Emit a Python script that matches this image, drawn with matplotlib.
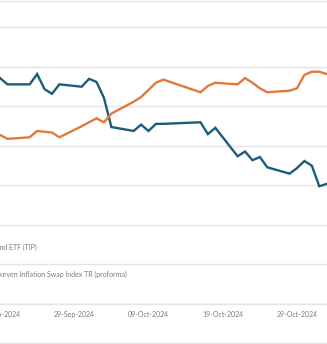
import matplotlib
matplotlib.use("Agg")
import matplotlib.dates as mdates
import matplotlib.pyplot as plt
import pandas as pd
from matplotlib.lines import Line2D

# trading days shown (bond market closed 14-Oct, no print 15-Oct)
dates = [
    "2024-09-19", "2024-09-20", "2024-09-23", "2024-09-24", "2024-09-25",
    "2024-09-26", "2024-09-27", "2024-09-30", "2024-10-01", "2024-10-02",
    "2024-10-03", "2024-10-04", "2024-10-07", "2024-10-08", "2024-10-09",
    "2024-10-10", "2024-10-11", "2024-10-16", "2024-10-17", "2024-10-18",
    "2024-10-21", "2024-10-22", "2024-10-23", "2024-10-24", "2024-10-25",
    "2024-10-28", "2024-10-29", "2024-10-30", "2024-10-31", "2024-11-01",
    "2024-11-04",
]
# cumulative return, %
tip_etf = [
    0.86, 0.78, 0.78, 0.91, 0.72,
    0.66, 0.78, 0.75, 0.85, 0.81,
    0.61, 0.24, 0.19, 0.27, 0.19,
    0.28, 0.28, 0.30, 0.15, 0.23,
    -0.13, -0.07, -0.18, -0.14, -0.27,
    -0.35, -0.28, -0.19, -0.25, -0.51,
    -0.42,
]
swap_index = [
    0.14, 0.09, 0.11, 0.19, 0.18,
    0.17, 0.11, 0.25, 0.30, 0.35,
    0.30, 0.41, 0.56, 0.62, 0.71,
    0.80, 0.84, 0.68, 0.76, 0.80,
    0.78, 0.86, 0.80, 0.73, 0.68,
    0.70, 0.73, 0.90, 0.94, 0.94,
    0.85,
]
series_names = [
    "iShares TIPS Bond ETF (TIP)",
    "S&P 10-Year Breakeven Inflation Swap Index TR (proforma)",
]
tick_dates = ["2024-09-19", "2024-09-29", "2024-10-09", "2024-10-19", "2024-10-29"]
y_ticks = [-2.0, -1.5, -1.0, -0.5, 0.0, 0.5, 1.0, 1.5]

BLUE = "#1d5d7c"
ORANGE = "#e2793a"
GRID = "#e4e4e4"
TEXT = "#7a7a7a"

plt.rcParams["font.family"] = ["Lato", "DejaVu Sans"]

x = pd.to_datetime(dates)
fig = plt.figure(figsize=(3.27, 3.44), dpi=100)
ax = fig.add_axes([0.0, 40 / 344, 1.0, 303 / 344])

ax.plot(x, tip_etf, color=BLUE, lw=1.7, label=series_names[0], solid_joinstyle="miter")
ax.plot(x, swap_index, color=ORANGE, lw=1.7, label=series_names[1], solid_joinstyle="miter")

base = mdates.date2num(pd.Timestamp("2024-09-29"))
ax.set_xlim(base - 9.27, base + 34.04)
ax.set_ylim(-2.0, 1.835)

ax.set_yticks(y_ticks)
ax.grid(axis="y", color=GRID, lw=1.0)
ax.set_axisbelow(True)
ax.tick_params(axis="y", left=False, labelleft=False)

ticks = pd.to_datetime(tick_dates)
ax.set_xticks(ticks)
ax.set_xticklabels([t.strftime("%d-%b-%Y") for t in ticks])
ax.tick_params(axis="x", length=0, pad=5, labelsize=5, labelcolor=TEXT)

for side in ("left", "right"):
    ax.spines[side].set_visible(False)
for side in ("top", "bottom"):
    ax.spines[side].set_color(GRID)
    ax.spines[side].set_linewidth(1.0)

# legend entries sit inside the plot, lower left
fig.text(37 / 327, 1 - 247 / 344, series_names[0], ha="right", va="center",
         fontsize=5, color=TEXT)
fig.text(127 / 327, 1 - 274 / 344, series_names[1], ha="right", va="center",
         fontsize=5, color=TEXT)

fig.add_artist(Line2D([0, 1], [1.2 / 344, 1.2 / 344], color=GRID, lw=1.0))

fig.savefig("out.png", dpi=100)
